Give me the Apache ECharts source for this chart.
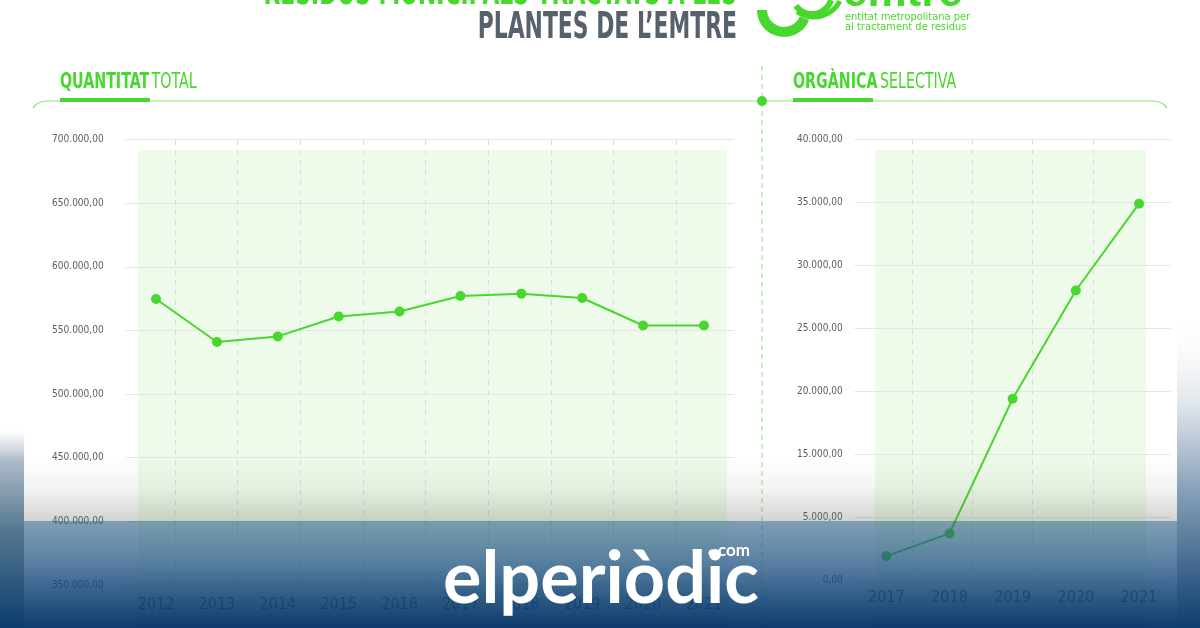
<!DOCTYPE html>
<html>
<head>
<meta charset="utf-8">
<script src="https://cdn.jsdelivr.net/npm/echarts@6/dist/echarts.min.js"></script>
<style>html,body{margin:0;padding:0;background:#fff}#c{width:1200px;height:628px}</style>
</head>
<body>
<div id="c"></div>
<script>
// ---- data ----
const leftYears = ['2012','2013','2014','2015','2016','2017','2018','2019','2020','2021'];
const leftValues = [574700, 540900, 545300, 561000, 564900, 577000, 578900, 575500, 553900, 553900];
const leftTickValues = [350000, 400000, 450000, 500000, 550000, 600000, 650000, 700000];
const leftTickLabels = ['350.000,00','400.000,00','450.000,00','500.000,00','550.000,00','600.000,00','650.000,00','700.000,00'];

const rightYears = ['2017','2018','2019','2020','2021'];
const rightValues = [6900, 8700, 19400, 28000, 34900];
const rightTickValues = [5000, 10000, 15000, 20000, 25000, 30000, 35000, 40000];
const rightTickLabels = ['0,00','5.000,00','15.000,00','20.000,00','25.000,00','30.000,00','35.000,00','40.000,00'];

const leftTitleBold = 'QUANTITAT';
const leftTitleLight = 'TOTAL';
const rightTitleBold = 'ORGÀNICA';
const rightTitleLight = 'SELECTIVA';
const titleTop = 'RESIDUS MUNICIPALS TRACTATS A LES';
const titleMain = 'PLANTES DE L\u2019EMTRE';

// ---- style ----
const GREEN = '#48d72c';
const NARROW = "'Liberation Sans Narrow','DejaVu Sans Condensed','Roboto Condensed',sans-serif";
const LABEL = '#56606a';

function tickLabel(values, labels) {
  return function (v) {
    const i = values.indexOf(v);
    return i >= 0 ? labels[i] : '';
  };
}

const chart = echarts.init(document.getElementById('c'), null, {renderer: 'canvas'});

const dashLine = {show: true, lineStyle: {color: '#d9dcd9', type: [5, 5], width: 1}};
const hidden = {show: false};

const option = {
  backgroundColor: '#ffffff',
  animation: false,
  grid: [
    {left: 125.6, right: 465.6, top: 139.5, bottom: 43, z: 2},
    {left: 854.7, right: 29.4, top: 139.5, bottom: 48, z: 2},
    {left: 138, right: 473, top: 150, bottom: 0, show: true, backgroundColor: '#effbea', borderWidth: 0, z: 0},
    {left: 175, right: 524, top: 140, bottom: 43, z: 1},
    {left: 875, right: 54, top: 150, bottom: 0, show: true, backgroundColor: '#effbea', borderWidth: 0, z: 0},
    {left: 912, right: 107, top: 139.5, bottom: 48, z: 1}
  ],
  xAxis: [
    {type: 'category', gridIndex: 0, data: leftYears, boundaryGap: true,
     axisLine: hidden, axisTick: hidden, splitLine: hidden,
     axisLabel: {color: LABEL, fontFamily: NARROW, fontSize: 16, margin: 12}},
    {type: 'category', gridIndex: 1, data: rightYears, boundaryGap: true,
     axisLine: hidden, axisTick: hidden, splitLine: hidden,
     axisLabel: {color: LABEL, fontFamily: NARROW, fontSize: 16, margin: 10}},
    {type: 'value', gridIndex: 3, min: 0, max: 8, interval: 1, axisLine: hidden, axisTick: hidden, axisLabel: hidden, splitLine: dashLine},
    {type: 'value', gridIndex: 5, min: 0, max: 3, interval: 1, axisLine: hidden, axisTick: hidden, axisLabel: hidden, splitLine: dashLine}
  ],
  yAxis: [
    {type: 'value', gridIndex: 0, min: leftTickValues[0], max: leftTickValues[leftTickValues.length - 1],
     interval: leftTickValues[1] - leftTickValues[0],
     axisLine: hidden, axisTick: hidden,
     splitLine: {show: true, lineStyle: {color: '#e3e6e3', width: 1}},
     axisLabel: {color: LABEL, fontFamily: NARROW, fontSize: 10, margin: 22, formatter: tickLabel(leftTickValues, leftTickLabels)}},
    {type: 'value', gridIndex: 1, min: rightTickValues[0], max: rightTickValues[rightTickValues.length - 1],
     interval: rightTickValues[1] - rightTickValues[0],
     axisLine: hidden, axisTick: hidden,
     splitLine: {show: true, lineStyle: {color: '#e3e6e3', width: 1}},
     axisLabel: {color: LABEL, fontFamily: NARROW, fontSize: 10, margin: 12, formatter: tickLabel(rightTickValues, rightTickLabels)}},
    {type: 'value', gridIndex: 3, min: 0, max: 1, show: false},
    {type: 'value', gridIndex: 5, min: 0, max: 1, show: false}
  ],
  series: [
    {type: 'line', xAxisIndex: 0, yAxisIndex: 0, data: leftValues, symbol: 'circle', symbolSize: 10,
     lineStyle: {color: GREEN, width: 2}, itemStyle: {color: GREEN}, z: 5},
    {type: 'line', xAxisIndex: 1, yAxisIndex: 1, data: rightValues, symbol: 'circle', symbolSize: 10,
     lineStyle: {color: GREEN, width: 2}, itemStyle: {color: GREEN}, z: 5}
  ],
  graphic: [
    // top titles
    {type: 'text', x: 737, y: 13, scaleX: 0.64, z: 10,
     style: {text: titleTop, align: 'right', verticalAlign: 'bottom', fill: GREEN, font: "bold 38px 'Liberation Sans Narrow','DejaVu Sans Condensed',sans-serif"}},
    {type: 'text', x: 737, y: 47, scaleX: 0.64, z: 10,
     style: {text: titleMain, align: 'right', verticalAlign: 'bottom', fill: '#56616b', font: "bold 38px 'Liberation Sans Narrow','DejaVu Sans Condensed',sans-serif"}},
    // emtre logo
    {type: 'arc', z: 10, shape: {cx: 784, cy: 10, r: 22, startAngle: 0.12 * Math.PI, endAngle: 1.0 * Math.PI},
     style: {stroke: GREEN, lineWidth: 10, fill: null}},
    {type: 'arc', z: 10, shape: {cx: 812, cy: -6, r: 20, startAngle: 0.1 * Math.PI, endAngle: 0.8 * Math.PI},
     style: {stroke: GREEN, lineWidth: 6, fill: null}},
    {type: 'arc', z: 10, shape: {cx: 814, cy: -12, r: 29, startAngle: 0.15 * Math.PI, endAngle: 0.7 * Math.PI},
     style: {stroke: GREEN, lineWidth: 5, fill: null}},
    {type: 'text', x: 843, y: 16, z: 10,
     style: {text: 'emtre', align: 'left', verticalAlign: 'bottom', fill: GREEN, font: "bold 44px 'Liberation Sans','DejaVu Sans',sans-serif"}},
    {type: 'text', x: 845, y: 17, z: 10,
     style: {text: 'entitat metropolitana per', align: 'left', verticalAlign: 'middle', fill: GREEN, font: "11px " + NARROW}},
    {type: 'text', x: 845, y: 27, z: 10,
     style: {text: 'al tractament de residus', align: 'left', verticalAlign: 'middle', fill: GREEN, font: "11px " + NARROW}},
    // section headers
    {type: 'text', x: 60, y: 82, scaleX: 0.72, z: 10,
     style: {text: '{b|' + leftTitleBold + '} {n|' + leftTitleLight + '}', verticalAlign: 'middle', align: 'left',
       rich: {b: {fill: GREEN, fontWeight: 'bold', fontSize: 22, fontFamily: NARROW},
              n: {fill: GREEN, fontSize: 22, fontFamily: NARROW}}}},
    {type: 'text', x: 793, y: 82, scaleX: 0.72, z: 10,
     style: {text: '{b|' + rightTitleBold + '} {n|' + rightTitleLight + '}', verticalAlign: 'middle', align: 'left',
       rich: {b: {fill: GREEN, fontWeight: 'bold', fontSize: 22, fontFamily: NARROW},
              n: {fill: GREEN, fontSize: 22, fontFamily: NARROW}}}},
    {type: 'rect', z: 10, shape: {x: 60, y: 98, width: 90, height: 4}, style: {fill: GREEN}},
    {type: 'rect', z: 10, shape: {x: 793, y: 98, width: 80, height: 4}, style: {fill: GREEN}},
    {type: 'line', z: 9, shape: {x1: 48, y1: 101, x2: 1152, y2: 101}, style: {stroke: '#8fe27c', lineWidth: 1.2}},
    {type: 'bezierCurve', z: 9, shape: {x1: 33, y1: 108, cpx1: 37, cpy1: 101, x2: 48, y2: 101}, style: {stroke: '#8fe27c', lineWidth: 1.2, fill: null}},
    {type: 'bezierCurve', z: 9, shape: {x1: 1152, y1: 101, cpx1: 1163, cpy1: 101, x2: 1167, y2: 108}, style: {stroke: '#8fe27c', lineWidth: 1.2, fill: null}},
    {type: 'line', z: 9, shape: {x1: 762, y1: 66, x2: 762, y2: 628}, style: {stroke: '#8fe27c', lineWidth: 1, lineDash: [5, 4]}},
    {type: 'circle', z: 10, shape: {cx: 762, cy: 101, r: 5}, style: {fill: GREEN}},
    // bottom overlay: upper soft grey fade
    {type: 'rect', z: 41, shape: {x: 0, y: 455, width: 1200, height: 66},
     style: {fill: {type: 'linear', x: 0, y: 0, x2: 0, y2: 1, colorStops: [
       {offset: 0, color: 'rgba(90,95,85,0)'},
       {offset: 0.5, color: 'rgba(90,95,85,0.07)'},
       {offset: 1, color: 'rgba(90,95,85,0.27)'}]}}},
    // bottom overlay: lower blue band
    {type: 'rect', z: 41, shape: {x: 0, y: 521, width: 1200, height: 107},
     style: {fill: {type: 'linear', x: 0, y: 0, x2: 0, y2: 1, colorStops: [
       {offset: 0, color: 'rgba(40,95,130,0.6)'},
       {offset: 0.37, color: 'rgba(30,80,130,0.72)'},
       {offset: 0.74, color: 'rgba(15,65,115,0.88)'},
       {offset: 1, color: 'rgba(8,56,106,0.98)'}]}}},
    // side photo edges
    {type: 'rect', z: 42, shape: {x: 0, y: 430, width: 24, height: 198},
     style: {fill: {type: 'linear', x: 0, y: 0, x2: 0, y2: 1, colorStops: [
       {offset: 0, color: 'rgba(200,210,220,0)'}, {offset: 0.15, color: '#aebccb'}, {offset: 0.5, color: '#56798f'}, {offset: 1, color: '#0c3d6e'}]}}},
    {type: 'rect', z: 42, shape: {x: 1177, y: 310, width: 23, height: 318},
     style: {fill: {type: 'linear', x: 0, y: 0, x2: 0, y2: 1, colorStops: [
       {offset: 0, color: 'rgba(255,255,255,0)'}, {offset: 0.3, color: '#dfe5ea'}, {offset: 0.6, color: '#7d98b2'}, {offset: 1, color: '#0c3d6e'}]}}},
    // elperiòdic logo
    {type: 'text', x: 443, y: 580, z: 50,
     style: {text: 'elperiòdic', align: 'left', verticalAlign: 'middle', fill: '#ffffff', font: "bold 72px Lato,'Noto Sans',sans-serif"}},
    {type: 'circle', z: 50, shape: {cx: 712, cy: 553, r: 3.5}, style: {fill: '#ffffff'}},
    {type: 'text', x: 718, y: 551, z: 50,
     style: {text: 'com', align: 'left', verticalAlign: 'middle', fill: '#ffffff', font: "bold 17px Lato,'Noto Sans',sans-serif"}}
  ]
};
chart.setOption(option);
</script>
</body>
</html>
